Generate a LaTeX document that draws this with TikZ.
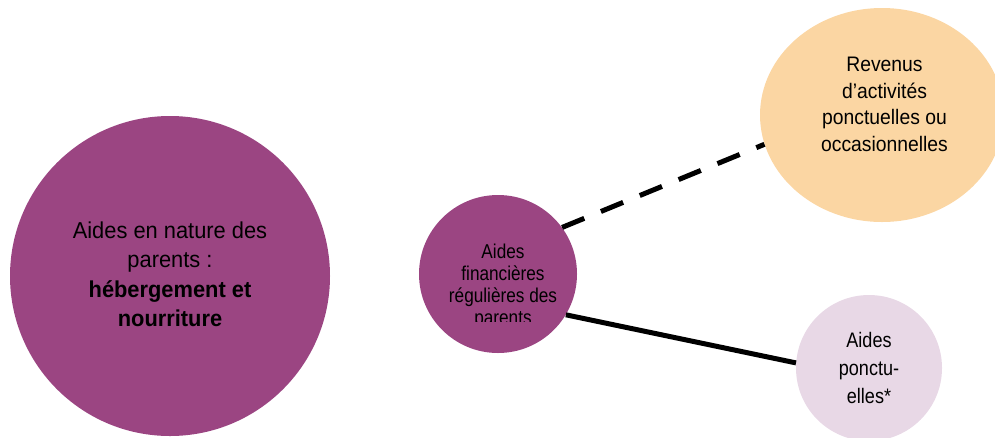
\documentclass[tikz,border=0pt]{standalone}
\usepackage{fontspec}
\setmainfont{Liberation Sans}
\newfontfamily\grande{Liberation Sans}[FakeStretch=0.95]
\newfontfamily\moyenne{Liberation Sans}[FakeStretch=0.92]
\newfontfamily\etroite{Liberation Sans}[FakeStretch=0.86]
\usetikzlibrary{shapes.geometric}
\definecolor{prune}{RGB}{155,69,130}
\definecolor{abricot}{RGB}{251,214,163}
\definecolor{lilas}{RGB}{232,216,230}
\tikzset{
  bulle/.style={circle, inner sep=0pt},
  texte/.style={align=center, text=black, inner sep=0pt},
  lien/.style={line width=5pt},
}
\begin{document}
\begin{tikzpicture}[x=1pt,y=-1pt]
\useasboundingbox (0,0) rectangle (995,437);
\clip (0,0) rectangle (995,437);
% bulles
\node[bulle, fill=prune, minimum size=320pt] (nature) at (170,276) {};
\node[bulle, fill=prune, minimum size=158pt] (financ) at (498,274) {};
\node[ellipse, inner sep=0pt, fill=abricot, minimum width=244pt, minimum height=214pt] (revenus) at (882,115) {};
\node[bulle, fill=lilas, minimum size=146pt] (ponct) at (869,368) {};
% liens
\draw[lien, dash pattern=on 24pt off 18pt] (financ.36) -- (revenus.194);
\draw[lien] (financ.-31) -- (ponct.176);
% textes
\node[texte, font=\grande\fontsize{23}{29.5}\selectfont] (nature-t) at ([yshift=1.5pt]nature.center)
  {Aides en nature des\\parents :\\\textbf{hébergement et}\\\textbf{nourriture}};
\begin{scope}
  \clip (400,180) rectangle (600,321);
  \node[texte, font=\etroite\fontsize{20}{22}\selectfont] (financ-t) at ([xshift=5pt,yshift=-12pt]financ.center)
    {Aides\\financières\\régulières des\\parents};
\end{scope}
\node[texte, font=\moyenne\fontsize{21}{26.7}\selectfont] (revenus-t) at ([xshift=2.5pt,yshift=10.5pt]revenus.center)
  {Revenus\\d’activités\\ponctuelles ou\\occasionnelles};
\node[texte, font=\etroite\fontsize{21}{28}\selectfont] (ponct-t) at (ponct.center)
  {Aides\\ponctu-\\elles*};
\end{tikzpicture}
\end{document}
